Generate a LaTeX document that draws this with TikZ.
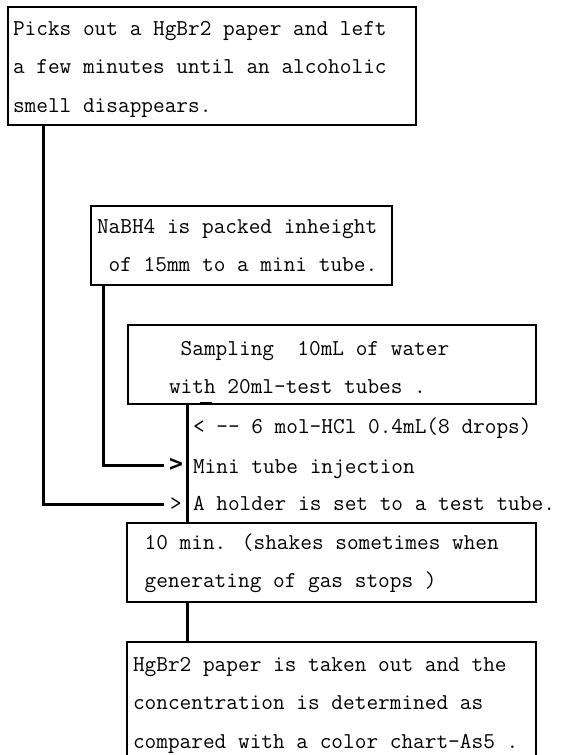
\documentclass[tikz,border=0pt]{standalone}
\usepackage{fontspec}
\newfontfamily\gtfont{DejaVu Sans Mono}
\newcommand{\myfont}{\ttfamily\fontsize{22.67pt}{38.5pt}\selectfont}
\newcommand{\fst}{\rule{0pt}{18pt}}
\tikzset{
  boxnode/.style={draw, line width=2.2pt, inner sep=0pt, outer sep=0pt, anchor=north west},
  txt/.style={inner sep=0pt, outer sep=0pt, align=left, anchor=north west, font=\myfont},
  rowtxt/.style={inner sep=0pt, outer sep=0pt, anchor=base west, font=\myfont},
  gt/.style={inner sep=0pt, outer sep=0pt, font=\myfont},
  gtbold/.style={inner sep=0pt, outer sep=0pt, font=\gtfont\bfseries\fontsize{23pt}{26pt}\selectfont},
  conn/.style={line width=3pt},
  tickline/.style={line width=2pt},
}
\begin{document}
\begin{tikzpicture}[x=1pt, y=-1pt]
\useasboundingbox (0,0) rectangle (561,755);

% boxes
\node[boxnode, minimum width=408pt, minimum height=118pt] (b1) at (8,7) {};
\node[boxnode, minimum width=301pt, minimum height=79pt] (b2) at (91,206) {};
\node[boxnode, minimum width=408pt, minimum height=79pt] (b3) at (128,325) {};
\node[boxnode, minimum width=409pt, minimum height=79pt] (b4) at (127,523) {};
\node[boxnode, minimum width=409pt, minimum height=118pt] (b5) at (127,642) {};

% box texts
\node[txt] (t1) at (13,17) {\fst Picks out a HgBr2 paper and left\\a few minutes until an alcoholic\\smell disappears.};
\node[txt] (t2) at (97,215) {\fst NaBH4 is packed inheight\\\phantom{x}of 15mm to a mini tube.};
\node[txt] (t3) at (134,337) {\fst\phantom{xxxx}Sampling~~10mL of water\\\phantom{xxx}with 20ml-test tubes .};
\node[txt] (t4) at (133,531) {\fst\phantom{x}10 min. (shakes sometimes when\\\phantom{x}generating of gas stops )};
\node[txt] (t5) at (133,653) {\fst HgBr2 paper is taken out and the\\concentration is determined as\\compared with a color chart-As5 .};

% row texts beside the main line
\node[rowtxt] (r1) at (193,433) {< -{}- 6 mol-HCl 0.4mL(8 drops)};
\node[rowtxt] (r2) at (193,473) {Mini tube injection};
\node[rowtxt] (r3) at (193,510) {A holder is set to a test tube.};
\node[gtbold] (g2) at (176,465) {>};
\node[gt] (g1) at (176,504) {>};

% connectors
\coordinate (c1) at ([xshift=35pt]b1.south west);
\coordinate (c2) at ([xshift=12pt]b2.south west);
\coordinate (m1) at ([xshift=59pt]b3.south west);
\coordinate (m2) at ([xshift=60pt]b4.south west);
\coordinate (tk) at ([xshift=72pt,yshift=1.5pt]b3.south west);

\draw[conn, shorten >=6pt] (c1) |- (g1.west);
\draw[conn, shorten >=5pt] (c2) -- (c2 |- g2.west) -- (g2.west);
\draw[conn] (m1) -- (m1 |- b4.north);
\draw[conn] (m2) -- (m2 |- b5.north);
\draw[tickline] (tk) -- ++(12,0);
\end{tikzpicture}
\end{document}
